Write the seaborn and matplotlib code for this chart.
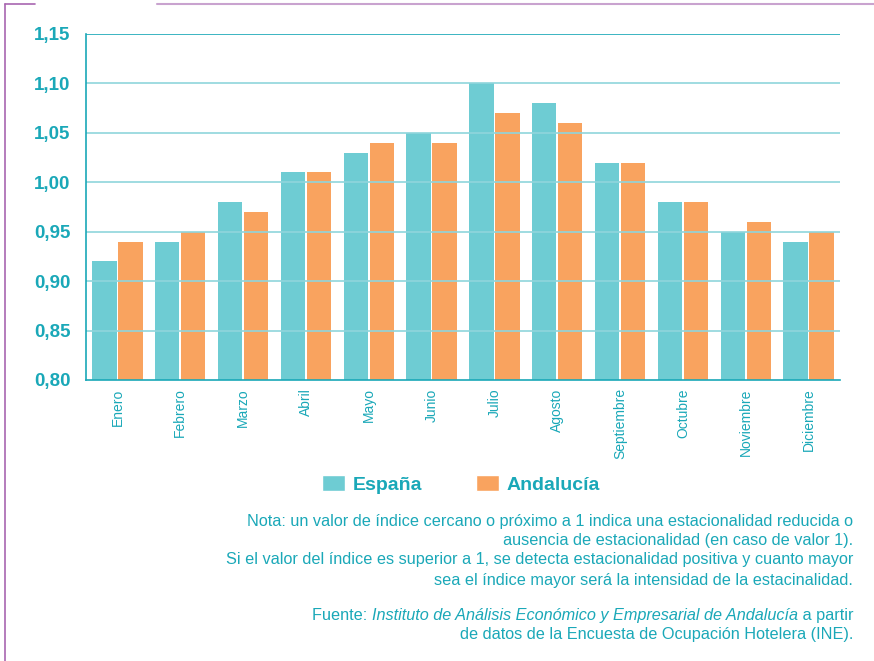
import pandas as pd
import seaborn as sns
import matplotlib.pyplot as plt
from matplotlib.lines import Line2D
from matplotlib.patches import Patch

# Data
meses = ["Enero", "Febrero", "Marzo", "Abril", "Mayo", "Junio", "Julio",
         "Agosto", "Septiembre", "Octubre", "Noviembre", "Diciembre"]
espana = [0.92, 0.94, 0.98, 1.01, 1.03, 1.05, 1.10, 1.08, 1.02, 0.98, 0.95, 0.94]
andalucia = [0.94, 0.95, 0.97, 1.01, 1.04, 1.04, 1.07, 1.06, 1.02, 0.98, 0.96, 0.95]
series = ["España", "Andalucía"]
yticks = [0.80, 0.85, 0.90, 0.95, 1.00, 1.05, 1.10, 1.15]

nota_lines = [
    "Nota: un valor de índice cercano o próximo a 1 indica una estacionalidad reducida o",
    "ausencia de estacionalidad (en caso de valor 1).",
    "Si el valor del índice es superior a 1, se detecta estacionalidad positiva y cuanto mayor",
    "sea el índice mayor será la intensidad de la estacinalidad.",
]
fuente_ini = "Fuente: "
fuente_it = "Instituto de Análisis Económico y Empresarial de Andalucía"
fuente_fin = " a partir"
fuente_2 = "de datos de la Encuesta de Ocupación Hotelera (INE)."

df = pd.DataFrame({"Mes": meses * 2,
                   "Indice": espana + andalucia,
                   "Serie": [series[0]] * 12 + [series[1]] * 12})

TEXT = "#1AA8B8"
TEAL = "#6ECCD3"
ORANGE = "#F9A35F"
GRID = "#8FD5DC"
PURPLE = "#A866B0"
W, H = 874, 661

sns.set_style("white")
plt.rcParams["font.family"] = ["Liberation Sans", "DejaVu Sans"]

fig = plt.figure(figsize=(W / 100, H / 100), dpi=100)
ax = fig.add_axes([86 / W, 1 - 380 / H, (840 - 86) / W, (380 - 34) / H])

sns.barplot(data=df, x="Mes", y="Indice", hue="Serie", order=meses,
            palette=[TEAL, ORANGE], width=0.83, gap=0.07, saturation=1,
            linewidth=0, legend=False, ax=ax)

ax.set_ylim(0.80, 1.15)
ax.set_yticks(yticks)
ax.set_yticklabels([f"{v:.2f}".replace(".", ",") for v in yticks],
                   color=TEXT, fontsize=13.5, fontweight="bold")
ax.set_xlim(-0.5, 11.5)
ax.set_xticks(range(12))
ax.set_xticklabels(meses, rotation=90, color=TEXT, fontsize=10)
ax.tick_params(axis="y", length=0, pad=11)
ax.tick_params(axis="x", length=0, pad=6)
ax.set_xlabel("")
ax.set_ylabel("")

# grid drawn over the bars
for v in yticks[1:-1]:
    ax.axhline(v, color=GRID, lw=1.2, zorder=5)
ax.axhline(1.15, color=TEXT, lw=1.2, zorder=5)

for s in ["top", "right"]:
    ax.spines[s].set_visible(False)
for s in ["left", "bottom"]:
    ax.spines[s].set_color(TEXT)
    ax.spines[s].set_linewidth(1.2)
    ax.spines[s].set_zorder(6)

# Legend
handles = [Patch(facecolor=TEAL, label=series[0]),
           Patch(facecolor=ORANGE, label=series[1])]
leg = fig.legend(handles=handles, loc="center", bbox_to_anchor=(461 / W, 1 - 484.5 / H),
                 ncol=2, frameon=False, handlelength=1.15, handleheight=0.85,
                 columnspacing=2.8, handletextpad=0.4,
                 prop={"weight": "bold", "size": 14})
for t in leg.get_texts():
    t.set_color(TEXT)

# Notes (right aligned, placed on baselines)
fs = 11.7
xr = 853 / W
for line, y in zip(nota_lines, [526, 545, 564, 585]):
    fig.text(xr, 1 - y / H, line, ha="right", va="baseline", color=TEXT, fontsize=fs)
fig.text(xr, 1 - 639 / H, fuente_2, ha="right", va="baseline", color=TEXT, fontsize=fs)

yf = 1 - 620 / H
t3 = fig.text(xr, yf, fuente_fin, ha="right", va="baseline", color=TEXT, fontsize=fs)
fig.canvas.draw()
x2 = t3.get_window_extent().x0 / fig.bbox.width
t2 = fig.text(x2, yf, fuente_it, ha="right", va="baseline", color=TEXT,
              fontsize=fs, style="italic")
fig.canvas.draw()
x1 = t2.get_window_extent().x0 / fig.bbox.width
fig.text(x1, yf, fuente_ini, ha="right", va="baseline", color=TEXT, fontsize=fs)

# page frame
fig.add_artist(Line2D([5 / W, 5 / W], [0, 1 - 4 / H], color=PURPLE, lw=1.2))
fig.add_artist(Line2D([5 / W, 35 / W], [1 - 4 / H, 1 - 4 / H], color=PURPLE, lw=1.2))
fig.add_artist(Line2D([157 / W, 1.0], [1 - 4 / H, 1 - 4 / H], color="#C9A3CF", lw=1.5))

fig.savefig("out.png", dpi=100)
